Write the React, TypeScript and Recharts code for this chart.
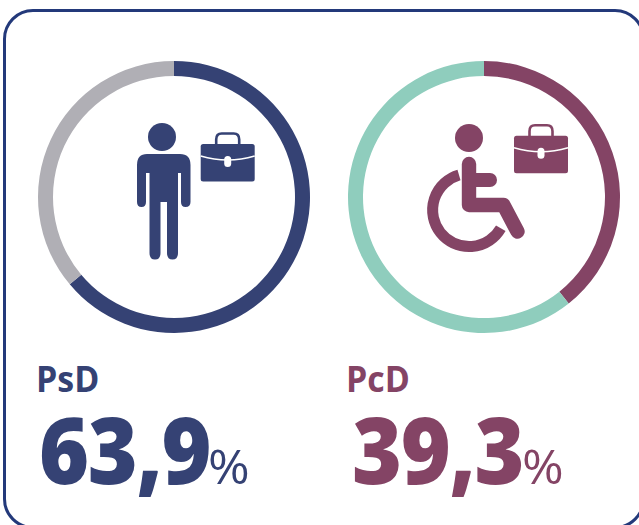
import { PieChart, Pie, Cell } from "recharts";

const groups = ["PsD", "PcD"];
const shares = [63.9, 39.3];
const shareLabels = ["63,9", "39,3"];
const mainColors = ["#354274", "#844465"];
const restColors = ["#b0afb5", "#8fcdbd"];
const chartLefts = [34, 344];

const FONT = "'Open Sans', 'Noto Sans', sans-serif";
const SIZE = 280;

function Ring({ index }: { index: number }) {
  const data = [
    { name: groups[index], value: shares[index] },
    { name: "resto", value: 100 - shares[index] },
  ];
  return (
    <div style={{ position: "absolute", left: chartLefts[index], top: 57 }}>
      <PieChart width={SIZE} height={SIZE} margin={{ top: 0, right: 0, bottom: 0, left: 0 }}>
        <Pie
          data={data}
          dataKey="value"
          nameKey="name"
          cx={SIZE / 2}
          cy={SIZE / 2}
          innerRadius={121}
          outerRadius={136}
          startAngle={90}
          endAngle={-270}
          stroke="none"
          isAnimationActive={false}
        >
          <Cell fill={mainColors[index]} />
          <Cell fill={restColors[index]} />
        </Pie>
      </PieChart>
    </div>
  );
}

// briefcase drawn from its top left corner, 54 wide
function Briefcase({ x, y, color }: { x: number; y: number; color: string }) {
  return (
    <g transform={`translate(${x} ${y})`}>
      <path
        d="M15.5 1V-4.5Q15.5 -10.5 21 -10.5H33Q38.5 -10.5 38.5 -4.5V1"
        fill="none"
        stroke={color}
        strokeWidth={2.6}
      />
      <rect x={0} y={0} width={54} height={37.5} rx={2.5} fill={color} />
      <path d="M0 12Q27 20 54 12" fill="none" stroke="#fff" strokeWidth={1.6} />
      <rect x={23.5} y={12} width={7} height={11} rx={3.5} fill="#fff" />
    </g>
  );
}

function Person({ color }: { color: string }) {
  return (
    <g fill={color}>
      <circle cx={162} cy={137} r={14} />
      <path d="M147 154H180Q190.5 154 190.5 165V202Q190.5 207 185.5 207Q181 207 181 202V173H178V253Q178 259.5 172.5 259.5Q167 259.5 167 253V202H160.5V253Q160.5 259.5 155 259.5Q149.5 259.5 149.5 253V173H146V202Q146 207 141.5 207Q137 207 137 202V165Q137 154 147 154Z" />
    </g>
  );
}

function Wheelchair({ color }: { color: string }) {
  return (
    <g>
      <circle cx={469} cy={138} r={14} fill={color} />
      <path
        d="M469 164V205H503.5L517.5 231.5"
        fill="none"
        stroke={color}
        strokeWidth={14.4}
        strokeLinecap="round"
        strokeLinejoin="round"
      />
      <path d="M469 180H490" fill="none" stroke={color} strokeWidth={14} strokeLinecap="round" />
      <path
        d="M459 175A36.5 36.5 0 1 0 500.8 228.2"
        fill="none"
        stroke={color}
        strokeWidth={11}
      />
    </g>
  );
}

// text squeezed or stretched sideways, the installed fonts are wider than the original
function Squeezed(props: {
  x: number;
  y: number;
  size: number;
  weight: number;
  scale: number;
  spacing?: number;
  color: string;
  children: string;
}) {
  return (
    <text
      transform={`translate(${props.x} ${props.y}) scale(${props.scale} 1)`}
      fontFamily={FONT}
      fontSize={props.size}
      fontWeight={props.weight}
      letterSpacing={props.spacing ?? 0}
      fill={props.color}
    >
      {props.children}
    </text>
  );
}

export default function App() {
  return (
    <div style={{ position: "absolute", left: 0, top: 0, width: 639, height: 525, overflow: "hidden", background: "#fff" }}>
      <div
        style={{
          position: "absolute",
          left: 3,
          top: 9,
          width: 642,
          height: 520,
          boxSizing: "border-box",
          border: "3px solid #23397a",
          borderRadius: 30,
        }}
      />
      <Ring index={0} />
      <Ring index={1} />
      <svg width={639} height={525} style={{ position: "absolute", left: 0, top: 0 }}>
        <Person color={mainColors[0]} />
        <Briefcase x={200.7} y={144} color={mainColors[0]} />
        <Wheelchair color={mainColors[1]} />
        <Briefcase x={514} y={135.7} color={mainColors[1]} />

        <Squeezed x={36} y={392} size={35} weight={700} scale={0.97} color={mainColors[0]}>
          {groups[0]}
        </Squeezed>
        <Squeezed x={346} y={392} size={35} weight={700} scale={0.97} color={mainColors[1]}>
          {groups[1]}
        </Squeezed>

        <Squeezed x={39} y={484} size={92} weight={800} scale={0.93} spacing={-1.5} color={mainColors[0]}>
          {shareLabels[0]}
        </Squeezed>
        <Squeezed x={208} y={484} size={48} weight={400} scale={1.05} color={mainColors[0]}>
          %
        </Squeezed>
        <Squeezed x={352} y={484} size={92} weight={800} scale={0.93} spacing={-1.5} color={mainColors[1]}>
          {shareLabels[1]}
        </Squeezed>
        <Squeezed x={522} y={484} size={48} weight={400} scale={1.05} color={mainColors[1]}>
          %
        </Squeezed>
      </svg>
    </div>
  );
}
